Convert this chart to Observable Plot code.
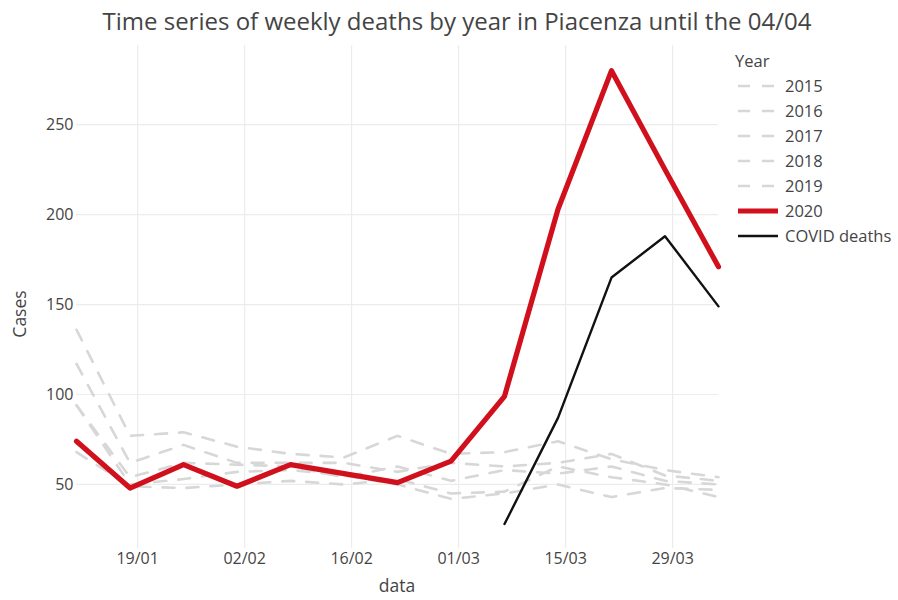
<!DOCTYPE html>
<html>
<head>
<meta charset="utf-8">
<script src="https://cdn.jsdelivr.net/npm/d3@7"></script>
<script src="https://cdn.jsdelivr.net/npm/@observablehq/plot@0.6"></script>
<style>
  body { margin: 0; background: #fff; font-family: "Open Sans", sans-serif; color: #444; }
  #wrap { position: relative; width: 898px; height: 600px; overflow: hidden; }
  #title { position: absolute; left: 457px; top: 21px; transform: translate(-50%, -50%); text-align: center; font-size: 24px; line-height: 1; color: #444; white-space: nowrap; }
  #chart { position: absolute; left: 0; top: 0; }
  .axtitle { position: absolute; font-size: 17.5px; line-height: 1; color: #444; white-space: nowrap; }
  #ytitle { left: 20px; top: 314px; transform: translate(-50%, -50%) rotate(-90deg); }
  #xtitle { left: 397px; top: 586px; transform: translate(-50%, -50%); }
  #legend { position: absolute; left: 735px; top: 48px; font-size: 16.5px; color: #444; }
  #legend .ttl { height: 25px; line-height: 25px; margin-bottom: 0; }
  #legend .row { height: 25px; display: flex; align-items: center; }
  #legend svg { margin-right: 7px; }
</style>
</head>
<body>
<div id="wrap">
  <div id="chart"></div>
  <div id="title">Time series of weekly deaths by year in Piacenza until the 04/04</div>
  <div class="axtitle" id="ytitle">Cases</div>
  <div class="axtitle" id="xtitle">data</div>
  <div id="legend"></div>
</div>
<script>
// Weekly dates (all years aligned to 2020 calendar)
const weeks = ["2020-01-11","2020-01-18","2020-01-25","2020-02-01","2020-02-08","2020-02-15","2020-02-22","2020-02-29","2020-03-07","2020-03-14","2020-03-21","2020-03-28","2020-04-04"];
const y2015 = [136, 77, 79, 71, 67, 65, 77, 67, 68, 74, 64, 58, 54];
const y2016 = [117, 62, 72, 62, 62, 62, 57, 62, 60, 62, 67, 55, 52];
const y2017 = [94, 54, 62, 61, 60, 54, 60, 52, 58, 56, 60, 52, 50];
const y2018 = [94, 50, 53, 57, 58, 55, 50, 42, 45, 50, 43, 48, 47];
const y2019 = [68, 49, 48, 50, 52, 50, 53, 45, 46, 60, 54, 50, 43];
const y2020 = [74, 48, 61, 49, 61, 56, 51, 63, 99, 203, 280, 225, 171];
const covidWeeks = ["2020-03-07","2020-03-14","2020-03-21","2020-03-28","2020-04-04"];
const covidDeaths = [28, 87, 165, 188, 149];
const xTicks = ["2020-01-19","2020-02-02","2020-02-16","2020-03-01","2020-03-15","2020-03-29"];
const yTicks = [50, 100, 150, 200, 250];
const pastYears = ["2015","2016","2017","2018","2019"];
const pastSeries = [y2015, y2016, y2017, y2018, y2019];

const parse = d3.utcParse("%Y-%m-%d");
const weekDates = weeks.map(parse);
const xTickDates = xTicks.map(parse);

const grayRows = [];
pastSeries.forEach((s, i) => s.forEach((v, j) => grayRows.push({year: pastYears[i], date: weekDates[j], value: v})));
const redRows = y2020.map((v, j) => ({date: weekDates[j], value: v}));
const covidRows = covidDeaths.map((v, j) => ({date: parse(covidWeeks[j]), value: v}));

const GRAY = "#d7d7d7", RED = "#d0111d", BLACK = "#111111";

const plot = Plot.plot({
  width: 898,
  height: 600,
  marginLeft: 76,
  marginRight: 180,
  marginTop: 45,
  marginBottom: 52,
  style: { fontFamily: "Open Sans, sans-serif", fontSize: "16px", color: "#444", background: "transparent" },
  x: { type: "utc", domain: [weekDates[0], weekDates[weekDates.length - 1]], ticks: xTickDates, tickFormat: d3.utcFormat("%d/%m"), tickSize: 0, tickPadding: 4, label: null },
  y: { domain: [14.4, 294], ticks: yTicks, tickSize: 0, tickPadding: 3, label: null },
  marks: [
    Plot.ruleX(xTickDates, { stroke: "#ececec", strokeWidth: 1.2 }),
    Plot.ruleY(yTicks, { stroke: "#ececec", strokeWidth: 1.2 }),
    Plot.line(grayRows, { x: "date", y: "value", z: "year", stroke: GRAY, strokeWidth: 2.6, strokeDasharray: "12,12" }),
    Plot.line(covidRows, { x: "date", y: "value", stroke: BLACK, strokeWidth: 2.4 }),
    Plot.line(redRows, { x: "date", y: "value", stroke: RED, strokeWidth: 5.2 })
  ]
});
document.getElementById("chart").appendChild(plot);

// Legend
const legend = d3.select("#legend");
legend.append("div").attr("class", "ttl").text("Year");
const items = pastYears.map(y => ({label: y, stroke: GRAY, width: 2.6, dash: "12,12"}))
  .concat([{label: "2020", stroke: RED, width: 5.2, dash: null}, {label: "COVID deaths", stroke: BLACK, width: 2.4, dash: null}]);
items.forEach(it => {
  const row = legend.append("div").attr("class", "row");
  const svg = row.append("svg").attr("width", 43).attr("height", 12);
  const ln = svg.append("line").attr("x1", 3).attr("x2", 43).attr("y1", 6).attr("y2", 6)
    .attr("stroke", it.stroke).attr("stroke-width", it.width);
  if (it.dash) ln.attr("stroke-dasharray", it.dash);
  row.append("span").text(it.label);
});
</script>
</body>
</html>
